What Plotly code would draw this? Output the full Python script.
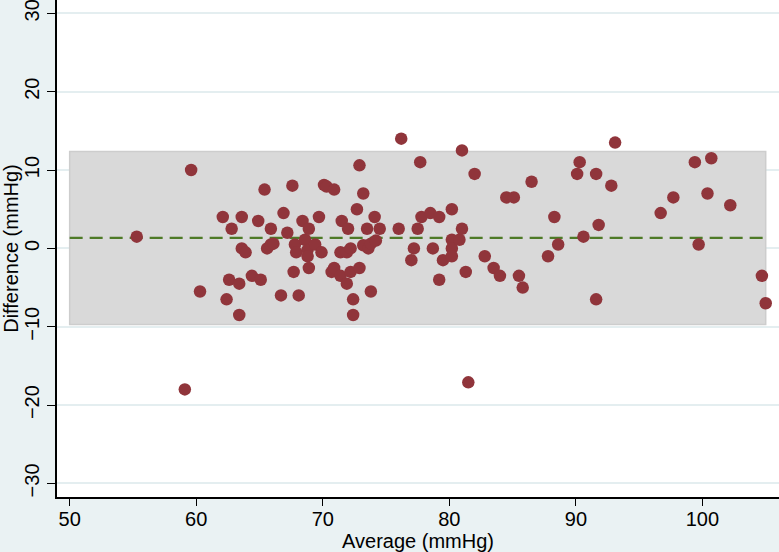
import plotly.graph_objects as go

# Bland-Altman data: average (mmHg) and difference (mmHg)
average = [55.3, 59.1, 59.6, 60.3, 62.1, 62.4, 62.6, 62.8, 63.4, 63.4,
           63.6, 63.6, 63.9, 64.4, 64.9, 65.1, 65.4, 65.6, 65.9, 66.1,
           65.9, 66.7, 66.9, 67.2, 67.6, 67.7, 67.8, 67.9, 68.1, 68.4,
           68.6, 68.8, 68.8, 68.9, 68.9, 69.4, 69.7, 69.9, 70.1, 70.3,
           70.7, 70.9, 70.9, 71.4, 71.4, 71.5, 71.9, 71.9, 72.0, 72.2,
           72.2, 72.4, 72.4, 72.7, 72.9, 72.9, 73.2, 73.2, 73.5, 73.6,
           73.8, 73.8, 74.1, 74.2, 74.5, 76.0, 76.2, 77.0, 77.2, 77.5,
           77.7, 77.8, 78.5, 78.7, 79.2, 79.2, 79.5, 80.2, 80.2, 80.2,
           80.2, 80.8, 81.0, 81.0, 81.3, 81.5, 82.0, 82.8, 83.5, 84.0,
           84.5, 85.1, 85.5, 85.8, 86.5, 87.8, 88.3, 88.6, 90.1, 90.3,
           90.6, 91.6, 91.6, 91.8, 92.8, 93.1, 96.7, 97.7, 99.4, 99.7,
           100.4, 100.7, 102.2, 104.7, 105.0]
difference = [1.5, -18.0, 10.0, -5.5, 4.0, -6.5, -4.0, 2.5, -4.5, -8.5,
              4.0, 0.0, -0.5, -3.5, 3.5, -4.0, 7.5, 0.0, 0.5, 0.6,
              2.5, -6.0, 4.5, 2.0, 8.0, -3.0, 0.5, -0.5, -6.0, 3.5,
              1.1, -0.2, -1.0, 2.5, -2.5, 0.5, 4.0, -0.5, 8.1, 7.9,
              -3.0, 7.5, -2.5, -3.5, -0.5, 3.5, -4.5, -0.5, 2.5, 0.0,
              -3.0, -6.5, -8.5, 5.0, 10.6, -2.5, 7.0, 0.4, 2.5, 0.0,
              0.6, -5.5, 4.0, 1.0, 2.5, 2.5, 14.0, -1.5, 0.0, 2.5,
              11.0, 4.0, 4.5, 0.0, 4.0, -4.0, -1.5, 5.0, 1.1, 0.0,
              -1.0, 1.1, 12.5, 2.5, -3.0, -17.1, 9.5, -1.0, -2.5, -3.5,
              6.5, 6.5, -3.5, -5.0, 8.5, -1.0, 4.0, 0.5, 9.5, 11.0,
              1.5, 9.5, -6.5, 3.0, 8.0, 13.5, 4.5, 6.5, 11.0, 0.5,
              7.0, 11.5, 5.5, -3.5, -7.0]

mean_diff = 1.35
upper_loa = 12.35
lower_loa = -9.7
band_x = [50, 105]

x_ticks = [50, 60, 70, 80, 90, 100]
y_ticks = [-30, -20, -10, 0, 10, 20, 30]

BG = "#EAF2F3"
FONT = "Liberation Sans, Arial, sans-serif"
FS = 20

fig = go.Figure()

fig.add_shape(type="rect", xref="x", yref="y",
              x0=band_x[0], x1=band_x[1], y0=lower_loa, y1=upper_loa,
              fillcolor="#D9D9D9", line=dict(color="#CDCDCD", width=1.5),
              layer="between")

fig.add_trace(go.Scatter(
    x=band_x, y=[mean_diff, mean_diff], mode="lines",
    line=dict(color="#4E7A27", width=2.2, dash="13px,7px"),
    hoverinfo="skip", showlegend=False))

fig.add_trace(go.Scatter(
    x=average, y=difference, mode="markers",
    marker=dict(color="#90353B", size=12.5, line=dict(width=0)),
    showlegend=False))

fig.update_layout(
    width=779, height=552,
    paper_bgcolor=BG, plot_bgcolor="white",
    margin=dict(l=57, r=0, t=0, b=55),
    font=dict(family=FONT, size=FS, color="black"),
    showlegend=False,
)

fig.update_xaxes(
    range=[49.0, 106.05], tickvals=x_ticks, ticks="outside", ticklen=7,
    tickwidth=1.2, tickcolor="black",
    showline=True, linecolor="black", linewidth=1.5,
    showgrid=False, zeroline=False,
    title=dict(text="Average (mmHg)", standoff=2, font=dict(size=FS)),
    tickfont=dict(size=FS), automargin=False, ticklabeloverflow="allow",
    ticklabelstandoff=-4,
)
fig.update_yaxes(
    range=[-31.73, 31.7], tickvals=y_ticks, ticks="outside", ticklen=8,
    tickwidth=1.2, tickcolor="black", tickangle=-90,
    showline=True, linecolor="black", linewidth=1.5,
    showgrid=True, gridcolor="#E4EEF0", gridwidth=1.5, zeroline=False,
    title=dict(text="Difference (mmHg)", standoff=3, font=dict(size=FS)),
    tickfont=dict(size=FS), automargin=False, ticklabeloverflow="allow",
)

fig.write_html("out.html", config={"displayModeBar": False},
               post_script="document.body.style.margin='0';document.body.style.padding='0';")
